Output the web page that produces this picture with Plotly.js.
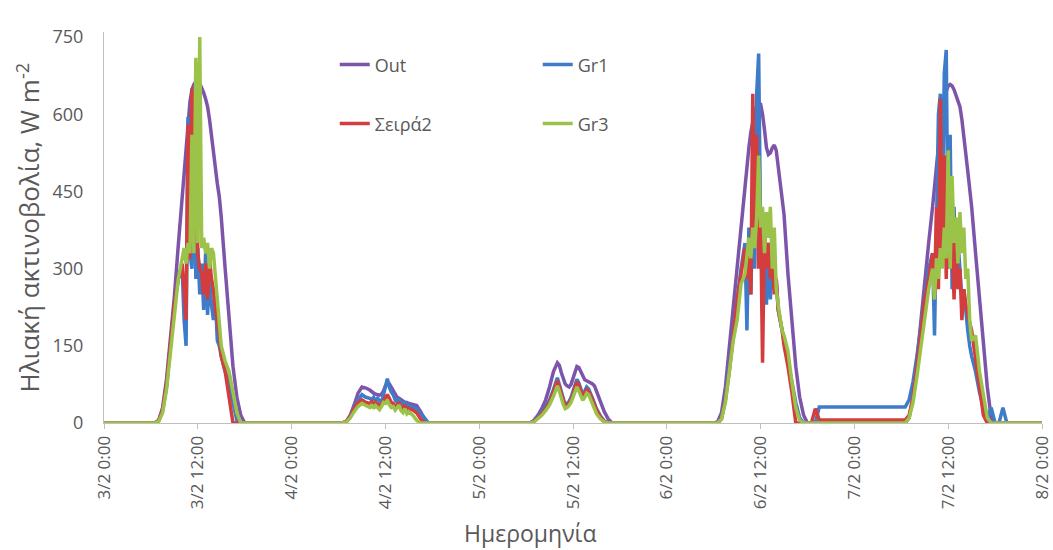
<!DOCTYPE html>
<html>
<head>
<meta charset="utf-8">
<script src="https://cdn.plot.ly/plotly-3.0.1.min.js"></script>
<style>html,body{margin:0;padding:0;background:#fff;}#chart{width:1053px;height:550px;}</style>
</head>
<body>
<div id="chart"></div>
<script>
// hours since 3/2 0:00
const hours = [
 0,5,5.5,6,6.5,7,7.5,8,8.5,9,9.5,10,10.25,10.5,10.75,11,11.25,11.5,11.75,12,12.25,12.5,12.75,13,13.25,13.5,13.75,14,14.25,14.5,14.75,15,15.5,16,16.5,17,17.5,18,18.5,19,19.5,
 24,29,29.5,30,30.5,31,31.5,32,32.5,33,33.5,34,34.25,34.5,34.75,35,35.25,35.5,35.75,36,36.25,36.5,36.75,37,37.25,37.5,37.75,38,38.25,38.5,38.75,39,39.5,40,40.5,41,41.5,42,42.5,43,43.5,
 48,53,53.5,54,54.5,55,55.5,56,56.5,57,57.5,58,58.25,58.5,58.75,59,59.25,59.5,59.75,60,60.25,60.5,60.75,61,61.25,61.5,61.75,62,62.25,62.5,62.75,63,63.5,64,64.5,65,65.5,66,66.5,67,67.5,
 72,77,77.5,78,78.5,79,79.5,80,80.5,81,81.5,82,82.25,82.5,82.75,83,83.25,83.5,83.75,84,84.25,84.5,84.75,85,85.25,85.5,85.75,86,86.25,86.5,86.75,87,87.5,88,88.5,89,89.5,90,90.5,91,91.5,
 96,101,101.5,102,102.5,103,103.5,104,104.5,105,105.5,106,106.25,106.5,106.75,107,107.25,107.5,107.75,108,108.25,108.5,108.75,109,109.25,109.5,109.75,110,110.25,110.5,110.75,111,111.5,112,112.5,113,113.5,114,114.5,115,115.5,
 120
];

const outVals = [
 0, 0,0,0,0,5,30,85,160,245,345, 440,490,550,590,625,648,658,663,665,660,652,642,630,615,590,555,520,490,465,440, 400,300,200,110,50,15,0,0,0,0,
 0, 0,0,0,0,3,15,35,58,70,68, 64,60,58,56,55,54,56,62,72,78,76,70,62,55,50,48,45,42,40,40, 38,36,34,22,8,0,0,0,0,0,
 0, 0,0,0,0,5,15,28,45,70,100, 117,112,98,85,76,72,70,75,88,102,110,108,100,90,84,82,80,78,76,72, 62,40,22,8,0,0,0,0,0,0,
 0, 0,0,0,2,20,70,150,225,300,380, 460,495,535,565,590,605,615,622,620,600,570,535,522,525,535,540,530,500,470,440, 405,290,195,110,50,15,0,0,0,0,
 0, 0,0,0,0,10,50,120,200,280,350, 420,460,500,545,585,615,635,648,655,658,655,648,638,628,615,590,560,525,490,455, 420,330,240,150,70,10,0,0,0,0,
 0
];

const gr1Vals = [
 0, 0,0,0,0,5,25,70,150,230,280, 300,200,150,595,330,300,560,280,340,250,310,220,330,210,290,230,200,240,160,150, 130,100,80,40,5,0,0,0,0,0,
 0, 0,0,0,0,2,12,30,45,55,50, 48,45,50,42,48,45,40,55,70,86,70,60,55,45,40,48,38,30,42,30, 35,30,28,20,10,0,0,0,0,0,
 0, 0,0,0,0,4,12,22,32,45,65, 88,75,60,45,35,38,42,50,62,75,85,78,65,55,62,70,66,58,48,38, 28,14,4,0,0,0,0,0,0,0,
 0, 0,0,0,0,10,50,110,180,240,300, 350,180,380,250,420,300,640,718,380,300,400,230,350,240,320,260,280,220,200,180, 160,120,80,40,10,0,0,0,0,31,
 31, 31,31,31,31,45,80,130,190,250,300, 330,170,380,600,640,400,680,725,300,560,260,420,280,350,300,240,260,210,180,150, 130,100,60,30,8,30,0,0,30,0,
 0
];

const seira2Vals = [
 0, 0,0,0,0,5,25,75,150,230,280, 310,260,200,580,320,650,340,700,330,300,290,250,310,240,320,280,260,220,200,170, 130,100,55,0,0,0,0,0,0,0,
 0, 0,0,0,0,3,12,28,40,45,40, 38,42,35,40,38,34,36,42,50,55,48,40,38,32,35,40,30,28,35,25, 28,25,20,8,0,0,0,0,0,0,
 0, 0,0,0,0,3,10,18,28,40,60, 82,70,55,40,32,35,38,45,55,70,80,72,60,50,58,65,62,55,45,35, 25,12,3,0,0,0,0,0,0,0,
 0, 0,0,0,0,8,45,100,170,240,290, 340,280,330,250,640,350,560,300,400,117,380,300,350,280,320,250,280,220,200,180, 150,110,60,0,0,0,0,0,28,6,
 6, 6,6,6,6,15,50,110,180,240,280, 330,250,420,260,630,320,520,280,480,300,350,240,380,260,300,200,260,230,210,195, 180,130,70,15,0,0,0,0,0,0,
 0
];

const gr3Vals = [
 0, 0,0,0,0,3,20,65,140,220,280, 320,340,310,350,330,560,330,710,350,750,340,360,330,350,300,340,330,280,250,200, 150,120,100,60,20,0,0,0,0,0,
 0, 0,0,0,0,2,10,22,32,38,34, 30,36,28,34,30,26,32,40,38,45,35,30,32,25,30,35,24,20,28,18, 22,15,5,0,0,0,0,0,0,0,
 0, 0,0,0,0,2,8,15,24,35,52, 72,62,48,36,28,30,34,40,50,62,70,62,52,44,50,58,55,46,38,28, 18,8,2,0,0,0,0,0,0,0,
 0, 0,0,0,0,8,40,100,160,200,270, 290,330,360,320,380,340,400,520,380,420,330,410,360,420,300,380,260,230,200,180, 170,140,80,30,5,0,0,0,0,0,
 0, 0,0,0,0,10,40,90,150,210,260, 300,240,320,280,340,300,380,320,530,300,480,350,400,310,410,330,380,280,300,200, 160,170,100,50,10,0,0,0,0,0,
 0
];

const seriesNames = ['Out', 'Gr1', 'Σειρά2', 'Gr3'];
const seriesColors = ['#7c55aa', '#3e7bc8', '#d43d3d', '#9bc34a'];
const tickHours = [0,12,24,36,48,60,72,84,96,108,120];
const tickLabels = ['3/2 0:00','3/2 12:00','4/2 0:00','4/2 12:00','5/2 0:00','5/2 12:00','6/2 0:00','6/2 12:00','7/2 0:00','7/2 12:00','8/2 0:00'];
const yTicks = [0,150,300,450,600,750];
const xTitle = 'Ημερομηνία';
const yTitle = 'Ηλιακή ακτινοβολία, W m<sup>-2</sup>';

const allVals = [outVals, gr1Vals, seira2Vals, gr3Vals];
const legendIds = ['legend', 'legend', 'legend2', 'legend2'];
const traces = allVals.map((v, i) => ({
  type: 'scatter', mode: 'lines', x: hours, y: v, name: seriesNames[i],
  line: {color: seriesColors[i], width: 3.5},
  legend: legendIds[i]
}));

const font = {family: 'Open Sans, Noto Sans, sans-serif', color: '#595959'};
const legendCommon = {
  orientation: 'h', xanchor: 'left', yanchor: 'middle',
  entrywidth: 158, entrywidthmode: 'pixels',
  bgcolor: 'rgba(0,0,0,0)', font: {family: font.family, color: '#595959', size: 18},
  itemclick: false
};
const layout = {
  width: 1053, height: 550,
  margin: {l: 104, r: 11, t: 32, b: 127},
  paper_bgcolor: '#ffffff', plot_bgcolor: '#ffffff',
  font: font,
  showlegend: true,
  legend: Object.assign({x: 0.246, y: 0.916}, legendCommon),
  legend2: Object.assign({x: 0.246, y: 0.765}, legendCommon),
  xaxis: {
    range: [0, 120], tickmode: 'array', tickvals: tickHours, ticktext: tickLabels,
    tickangle: -90, ticks: 'outside', ticklen: 5, tickcolor: '#bfbfbf',
    showline: true, linecolor: '#bfbfbf', linewidth: 1, showgrid: false, zeroline: false,
    tickfont: {size: 17, color: '#595959'}
  },
  yaxis: {
    range: [0, 760], tickmode: 'array', tickvals: yTicks,
    showline: true, linecolor: '#bfbfbf', linewidth: 1, showgrid: false, zeroline: false,
    ticks: '', ticklabelstandoff: 16,
    tickfont: {size: 18, color: '#595959'}
  },
  annotations: [
    {text: xTitle, xref: 'paper', yref: 'paper', x: 0.454, y: -0.281, xanchor: 'center', yanchor: 'middle',
     showarrow: false, font: {size: 23, color: '#595959'}},
    {text: yTitle, xref: 'paper', yref: 'paper', x: -0.081, y: 0.5, xanchor: 'center', yanchor: 'middle',
     textangle: -90, showarrow: false, font: {size: 26, color: '#595959'}}
  ]
};
Plotly.newPlot('chart', traces, layout, {displayModeBar: false, staticPlot: true});
</script>
</body>
</html>
